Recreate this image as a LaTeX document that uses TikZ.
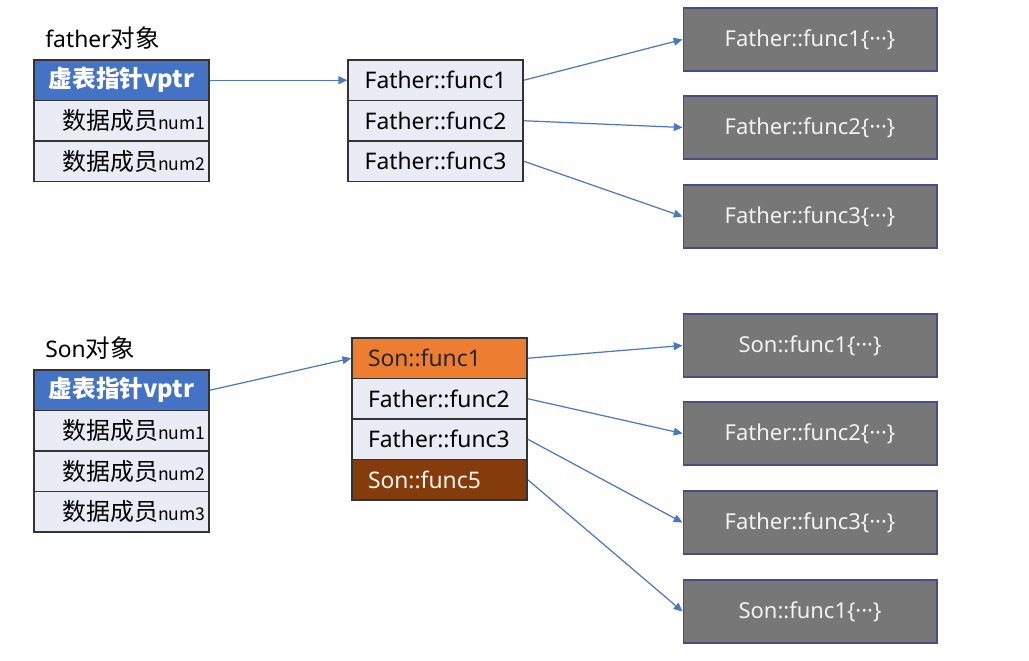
\documentclass[tikz,border=0pt]{standalone}
\usepackage{fontspec}
\setmainfont{Noto Sans}
\newfontfamily\cjk{Noto Sans CJK SC}
\usetikzlibrary{arrows.meta}

\definecolor{vptrblue}{HTML}{4472C4}
\definecolor{rowfill}{HTML}{E9EBF5}
\definecolor{implgray}{HTML}{777777}
\definecolor{ovrorange}{HTML}{ED7D31}
\definecolor{newbrown}{HTML}{843C0C}
\definecolor{linkblue}{HTML}{4A78C2}

\tikzset{
  cell/.style={draw=black!80, line width=0.9pt, fill=rowfill, minimum width=3.5cm,
    minimum height=0.81cm, inner sep=0pt, font=\fontsize{13}{15}\selectfont},
  vptrcell/.style={cell, fill=vptrblue, text=white, font=\cjk\fontsize{13.5}{16}\selectfont\bfseries},
  membercell/.style={cell, text width=3.36cm, align=right, font=\cjk\fontsize{13.6}{16}\selectfont},
  slotcell/.style={cell, text width=2.86cm, align=left},
  implbox/.style={draw=black!45!blue!40!gray, line width=0.6pt, fill=implgray, text=white!95!black,
    minimum width=5.08cm, minimum height=1.26cm, font=\fontsize{12.5}{15}\selectfont},
  objlabel/.style={anchor=west, inner sep=0pt, font=\fontsize{13}{16}\selectfont},
  link/.style={draw=linkblue, line width=0.7pt, -{Triangle[length=5pt,width=4.5pt]}}
}
\newcommand{\numtag}[1]{{\fontsize{10}{12}\selectfont #1}}

\begin{document}
\begin{tikzpicture}[x=0.02cm, y=-0.02cm]
  \useasboundingbox (0,0) rectangle (1029,661);

  % father object
  \node[objlabel] (flabel) at (45,38) {father{\cjk\fontsize{14}{16}\selectfont 对象}};
  \node[vptrcell]   (fvptr) at (121.5,80.25)  {虚表指针vptr};
  \node[membercell] (fm1)   at (121.5,120.75) {数据成员\numtag{num1}};
  \node[membercell] (fm2)   at (121.5,161.25) {数据成员\numtag{num2}};

  % father vtable
  \node[cell] (ff1) at (435.5,80.25)  {Father::func1};
  \node[cell] (ff2) at (435.5,120.75) {Father::func2};
  \node[cell] (ff3) at (435.5,161.25) {Father::func3};

  % father implementations
  \node[implbox] (fi1) at (810,39.5)  {Father::func1\{···\}};
  \node[implbox] (fi2) at (810,127.5) {Father::func2\{···\}};
  \node[implbox] (fi3) at (810,216.5) {Father::func3\{···\}};

  \draw[link] (fvptr.east) -- (ff1.west);
  \draw[link] (ff1.east) -- (fi1.west);
  \draw[link] (ff2.east) -- (fi2.west);
  \draw[link] (ff3.east) -- (fi3.west);

  % son object
  \node[objlabel] (slabel) at (45,348) {Son{\cjk\fontsize{14}{16}\selectfont 对象}};
  \node[vptrcell]   (svptr) at (121.5,390.25) {虚表指针vptr};
  \node[membercell] (sm1)   at (121.5,430.75) {数据成员\numtag{num1}};
  \node[membercell] (sm2)   at (121.5,471.25) {数据成员\numtag{num2}};
  \node[membercell] (sm3)   at (121.5,511.75) {数据成员\numtag{num3}};

  % son vtable
  \node[slotcell, fill=ovrorange, text=black!85] (sf1) at (439.5,358.25) {Son::func1};
  \node[slotcell] (sf2) at (439.5,398.75) {Father::func2};
  \node[slotcell] (sf3) at (439.5,439.25) {Father::func3};
  \node[slotcell, fill=newbrown, text=white!92!orange] (sf5) at (439.5,479.75) {Son::func5};

  % son implementations
  \node[implbox] (si1) at (810,345.5) {Son::func1\{···\}};
  \node[implbox] (si2) at (810,433.5) {Father::func2\{···\}};
  \node[implbox] (si3) at (810,522.5) {Father::func3\{···\}};
  \node[implbox] (si5) at (810,611.5) {Son::func1\{···\}};

  \draw[link] (svptr.east) -- (sf1.west);
  \draw[link] (sf1.east) -- (si1.west);
  \draw[link] (sf2.east) -- (si2.west);
  \draw[link] (sf3.east) -- (si3.west);
  \draw[link] (sf5.east) -- (si5.west);
\end{tikzpicture}
\end{document}
